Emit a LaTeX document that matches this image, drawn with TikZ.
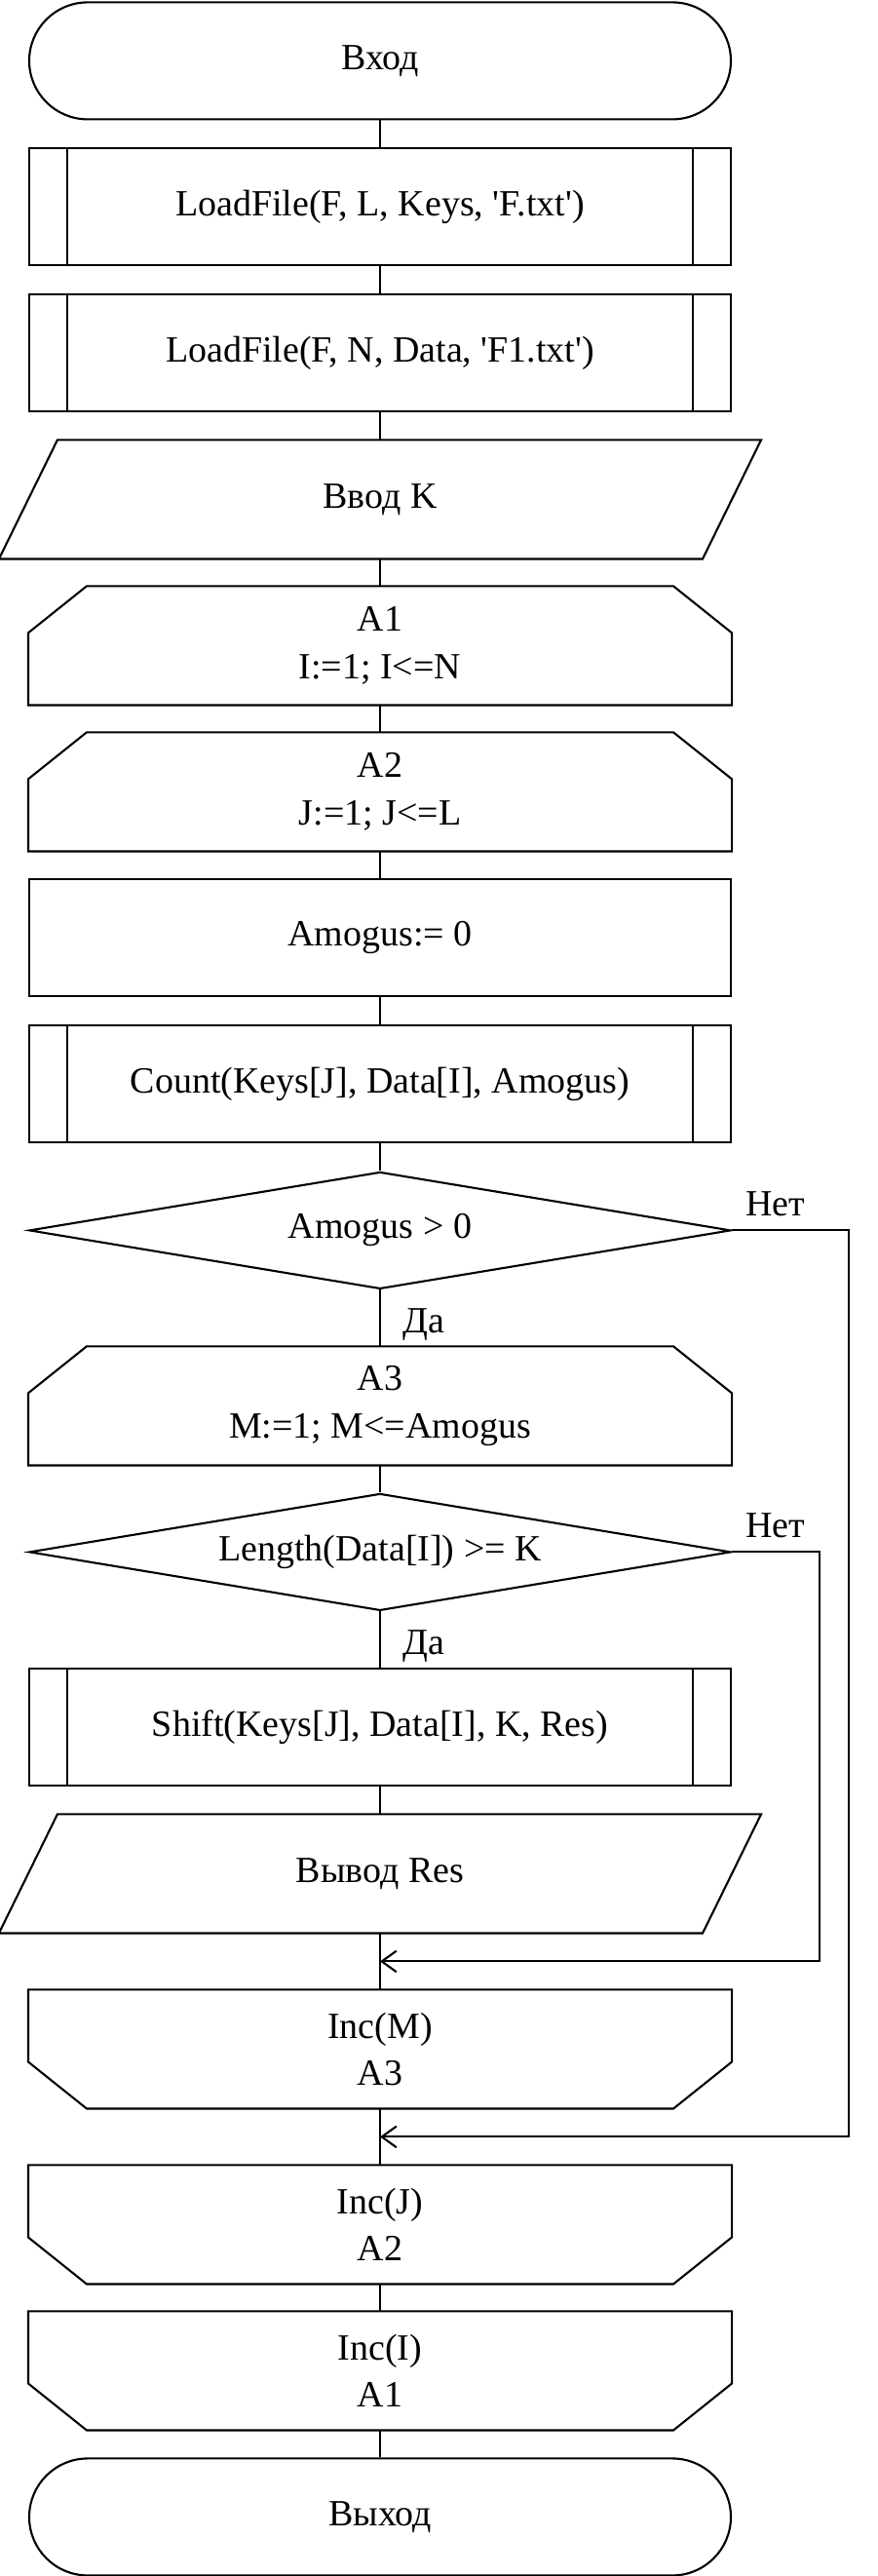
\documentclass[tikz,border=0pt]{standalone}
\usepackage{fontspec}
\setmainfont{Liberation Serif}
\usetikzlibrary{shapes.geometric,arrows.meta}

\tikzset{
  blk/.style={minimum width=12cm, minimum height=2cm, inner sep=0pt, align=center,
    font=\fontsize{18}{23}\selectfont},
  term/.style={blk, draw, rounded corners=1cm},
  proc/.style={blk, draw},
  subproc/.style={blk, draw},
  io/.style={blk},
  loopbeg/.style={blk},
  loopend/.style={blk},
  cond/.style={blk, draw, diamond, aspect=6},
  lbl/.style={inner sep=0pt, font=\fontsize{18}{23}\selectfont},
  arr/.style={-{Straight Barb[length=2.5mm,width=3.6mm]}},
}

\begin{document}
\begin{tikzpicture}[line width=1pt]
\useasboundingbox (0,0.04) rectangle (15,-44.01);

\node[term] (start) at (6.5,-1) {Вход};
\node[subproc] (load1) at (6.5,-3.5) {LoadFile(F, L, Keys, \textquotesingle F.txt\textquotesingle)};
\node[subproc] (load2) at (6.5,-6) {LoadFile(F, N, Data, \textquotesingle F1.txt\textquotesingle)};
\node[io] (inK) at (6.5,-8.5) {Ввод K};
\node[loopbeg] (a1) at (6.5,-11) {A1\\I:=1; I<=N};
\node[loopbeg] (a2) at (6.5,-13.5) {A2\\J:=1; J<=L};
\node[proc] (zero) at (6.5,-16) {Amogus:= 0};
\node[subproc] (count) at (6.5,-18.5) {Count(Keys[J], Data[I], Amogus)};
\node[cond] (cond1) at (6.5,-21) {Amogus > 0};
\node[loopbeg] (a3) at (6.5,-24) {A3\\M:=1; M<=Amogus};
\node[cond] (cond2) at (6.5,-26.5) {Length(Data[I]) >= K};
\node[subproc] (shift) at (6.5,-29.5) {Shift(Keys[J], Data[I], K, Res)};
\node[io] (outRes) at (6.5,-32) {Вывод Res};
\coordinate (j1) at (6.5,-33.5);
\node[loopend] (incM) at (6.5,-35) {Inc(M)\\A3};
\coordinate (j2) at (6.5,-36.5);
\node[loopend] (incJ) at (6.5,-38) {Inc(J)\\A2};
\node[loopend] (incI) at (6.5,-40.5) {Inc(I)\\A1};
\node[term] (stop) at (6.5,-43) {Выход};

% outlines of the special blocks
\foreach \n in {load1,load2,count,shift} {
  \draw ([xshift=0.67cm]\n.north west) -- ([xshift=0.67cm]\n.south west);
  \draw ([xshift=-0.67cm]\n.north east) -- ([xshift=-0.67cm]\n.south east);
}
\foreach \n in {inK,outRes}
  \draw ([xshift=0.5cm]\n.north west) -- ([xshift=0.5cm]\n.north east)
    -- ([xshift=-0.5cm]\n.south east) -- ([xshift=-0.5cm]\n.south west) -- cycle;
\foreach \n in {a1,a2,a3}
  \draw ([xshift=1cm]\n.north west) -- ([xshift=-1cm]\n.north east)
    -- ([yshift=-0.8cm]\n.north east) -- (\n.south east) -- (\n.south west)
    -- ([yshift=-0.8cm]\n.north west) -- cycle;
\foreach \n in {incM,incJ,incI}
  \draw (\n.north west) -- (\n.north east) -- ([yshift=0.8cm]\n.south east)
    -- ([xshift=-1cm]\n.south east) -- ([xshift=1cm]\n.south west)
    -- ([yshift=0.8cm]\n.south west) -- cycle;

% main line
\foreach \a/\b in {start/load1,load1/load2,load2/inK,inK/a1,a1/a2,a2/zero,zero/count,
    count/cond1,cond1/a3,a3/cond2,cond2/shift,shift/outRes,outRes/incM,incM/incJ,
    incJ/incI,incI/stop}
  \draw (\a.south) -- (\b.north);

% branches
\node[lbl, anchor=base west] (yes1) at ([xshift=0.37cm,yshift=-0.73cm]cond1.south) {Да};
\node[lbl, anchor=base west] (no1) at ([xshift=0.22cm,yshift=0.25cm]cond1.east) {Нет};
\node[lbl, anchor=base west] (yes2) at ([xshift=0.37cm,yshift=-0.73cm]cond2.south) {Да};
\node[lbl, anchor=base west] (no2) at ([xshift=0.22cm,yshift=0.25cm]cond2.east) {Нет};
\draw[arr] (cond1.east) -- ++(2,0) |- (j2);
\draw[arr] (cond2.east) -- ++(1.5,0) |- (j1);
\end{tikzpicture}
\end{document}
